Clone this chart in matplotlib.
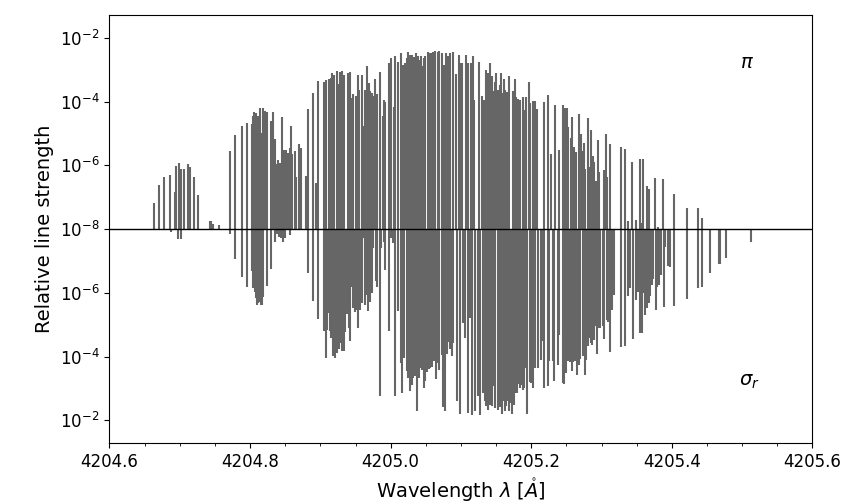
import matplotlib
matplotlib.use("Agg")
import matplotlib.pyplot as plt
from matplotlib.ticker import MultipleLocator
import numpy as np

# pi component: wavelength [A] and log10 of relative line strength
pi_wl = [
    4204.6640, 4204.6711, 4204.6782, 4204.6868, 4204.6939, 4204.6953, 4204.6982, 4204.7020,
    4204.7067, 4204.7110, 4204.7152, 4204.7209, 4204.7266, 4204.7423, 4204.7444, 4204.7469,
    4204.7551, 4204.7721, 4204.7792, 4204.7878, 4204.7963, 4204.8024, 4204.8038, 4204.8058,
    4204.8087, 4204.8115, 4204.8144, 4204.8167, 4204.8187, 4204.8215, 4204.8243, 4204.8300,
    4204.8329, 4204.8357, 4204.8386, 4204.8404, 4204.8428, 4204.8457, 4204.8479, 4204.8508,
    4204.8542, 4204.8561, 4204.8585, 4204.8603, 4204.8632, 4204.8656, 4204.8699, 4204.8731,
    4204.8802, 4204.8827, 4204.8898, 4204.8940, 4204.8969, 4204.9054, 4204.9073, 4204.9120,
    4204.9144, 4204.9172, 4204.9196, 4204.9233, 4204.9257, 4204.9282, 4204.9314, 4204.9343,
    4204.9386, 4204.9424, 4204.9442, 4204.9471, 4204.9504, 4204.9532, 4204.9556, 4204.9585,
    4204.9613, 4204.9637, 4204.9666, 4204.9688, 4204.9708, 4204.9731, 4204.9755, 4204.9780,
    4204.9802, 4204.9855, 4204.9888, 4204.9908, 4204.9926, 4204.9983, 4205.0011, 4205.0044,
    4205.0064, 4205.0107, 4205.0150, 4205.0172, 4205.0186, 4205.0206, 4205.0229, 4205.0253,
    4205.0277, 4205.0306, 4205.0329, 4205.0363, 4205.0385, 4205.0405, 4205.0424, 4205.0438,
    4205.0457, 4205.0476, 4205.0495, 4205.0524, 4205.0552, 4205.0580, 4205.0609, 4205.0637,
    4205.0666, 4205.0694, 4205.0723, 4205.0751, 4205.0775, 4205.0789, 4205.0818, 4205.0846,
    4205.0893, 4205.0922, 4205.0974, 4205.0997, 4205.1021, 4205.1068, 4205.1093, 4205.1145,
    4205.1164, 4205.1188, 4205.1253, 4205.1302, 4205.1330, 4205.1359, 4205.1381, 4205.1396,
    4205.1415, 4205.1438, 4205.1458, 4205.1477, 4205.1491, 4205.1510, 4205.1529, 4205.1552,
    4205.1572, 4205.1595, 4205.1615, 4205.1633, 4205.1657, 4205.1686, 4205.1743, 4205.1765,
    4205.1789, 4205.1813, 4205.1842, 4205.1884, 4205.1907, 4205.1931, 4205.1970, 4205.1987,
    4205.2021, 4205.2046, 4205.2084, 4205.2183, 4205.2240, 4205.2282, 4205.2339, 4205.2396,
    4205.2453, 4205.2478, 4205.2501, 4205.2529, 4205.2558, 4205.2586, 4205.2605, 4205.2629,
    4205.2672, 4205.2690, 4205.2710, 4205.2729, 4205.2753, 4205.2770, 4205.2803, 4205.2828,
    4205.2852, 4205.2875, 4205.2899, 4205.2918, 4205.2942, 4205.2970, 4205.3037, 4205.3065,
    4205.3083, 4205.3122, 4205.3279, 4205.3336, 4205.3378, 4205.3435, 4205.3492, 4205.3549,
    4205.3572, 4205.3596, 4205.3649, 4205.3677, 4205.3757, 4205.3805, 4205.3876, 4205.4032,
    4205.4212, 4205.4378, 4205.4431,
]
pi_logS = [
    -7.17, -6.60, -6.36, -6.30, -6.85, -6.02, -5.92, -6.11,
    -6.11, -5.95, -6.05, -6.36, -6.92, -7.74, -7.74, -7.83,
    -7.87, -5.55, -5.05, -4.76, -4.67, -4.70, -4.45, -4.32,
    -4.36, -4.45, -4.20, -4.97, -4.20, -4.28, -4.32, -4.61,
    -4.32, -5.16, -5.97, -5.83, -5.91, -4.48, -5.51, -5.51,
    -5.60, -5.45, -4.76, -5.64, -5.55, -6.35, -5.33, -5.44,
    -6.32, -4.22, -3.72, -6.55, -3.35, -3.38, -3.32, -3.28,
    -3.26, -3.11, -3.15, -3.04, -3.45, -3.07, -3.04, -3.15,
    -3.09, -3.07, -3.87, -3.76, -3.82, -3.16, -3.63, -3.16,
    -4.76, -3.63, -2.88, -3.42, -3.66, -3.72, -3.82, -3.29,
    -3.76, -3.07, -4.44, -3.95, -4.01, -2.78, -2.64, -4.17,
    -2.57, -2.76, -2.47, -2.85, -4.66, -2.78, -2.63, -2.45,
    -2.55, -2.53, -2.59, -2.47, -2.57, -2.70, -2.80, -2.57,
    -2.87, -2.62, -2.56, -2.44, -2.47, -2.48, -2.45, -2.41,
    -2.44, -2.41, -2.47, -2.84, -2.84, -2.47, -2.56, -2.47,
    -2.44, -3.12, -2.54, -2.80, -2.80, -2.54, -2.80, -2.78,
    -2.57, -3.95, -2.76, -3.82, -3.95, -3.01, -3.11, -3.09,
    -2.78, -3.19, -3.66, -3.37, -3.09, -3.92, -3.63, -3.48,
    -3.09, -3.72, -3.29, -3.63, -3.70, -3.19, -3.66, -3.29,
    -3.84, -3.91, -3.95, -3.86, -4.26, -3.86, -3.38, -4.04,
    -3.98, -3.98, -4.23, -4.01, -3.80, -5.64, -4.10, -5.51,
    -4.10, -4.20, -4.21, -4.81, -5.14, -4.47, -5.41, -5.57,
    -4.39, -5.64, -5.01, -5.54, -5.30, -6.12, -4.52, -6.04,
    -4.89, -5.72, -5.88, -6.49, -5.20, -6.21, -6.14, -5.01,
    -6.35, -5.33, -5.41, -5.49, -7.76, -5.89, -7.71, -5.81,
    -7.81, -5.81, -6.66, -6.74, -6.40, -7.94, -6.42, -6.89,
    -7.34, -7.34, -7.66,
]

# sigma_r component
sr_wl = [
    4204.6882, 4204.6977, 4204.7020, 4204.7721, 4204.7792, 4204.7878, 4204.7963, 4204.8027,
    4204.8046, 4204.8063, 4204.8080, 4204.8097, 4204.8114, 4204.8134, 4204.8152, 4204.8169,
    4204.8186, 4204.8243, 4204.8300, 4204.8357, 4204.8386, 4204.8414, 4204.8443, 4204.8465,
    4204.8494, 4204.8561, 4204.8831, 4204.8888, 4204.8973, 4204.9058, 4204.9073, 4204.9094,
    4204.9120, 4204.9140, 4204.9158, 4204.9177, 4204.9201, 4204.9240, 4204.9258, 4204.9282,
    4204.9305, 4204.9329, 4204.9348, 4204.9376, 4204.9400, 4204.9428, 4204.9452, 4204.9471,
    4204.9495, 4204.9516, 4204.9538, 4204.9561, 4204.9585, 4204.9609, 4204.9632, 4204.9660,
    4204.9680, 4204.9708, 4204.9731, 4204.9755, 4204.9793, 4204.9812, 4204.9850, 4204.9869,
    4204.9898, 4204.9926, 4204.9979, 4205.0008, 4205.0036, 4205.0064, 4205.0097, 4205.0144,
    4205.0168, 4205.0196, 4205.0225, 4205.0253, 4205.0277, 4205.0300, 4205.0324, 4205.0353,
    4205.0377, 4205.0400, 4205.0424, 4205.0434, 4205.0452, 4205.0467, 4205.0495, 4205.0514,
    4205.0538, 4205.0562, 4205.0585, 4205.0613, 4205.0642, 4205.0670, 4205.0694, 4205.0727,
    4205.0751, 4205.0770, 4205.0794, 4205.0818, 4205.0846, 4205.0875, 4205.0893, 4205.0946,
    4205.0989, 4205.1026, 4205.1054, 4205.1093, 4205.1131, 4205.1159, 4205.1202, 4205.1239,
    4205.1277, 4205.1316, 4205.1338, 4205.1359, 4205.1381, 4205.1406, 4205.1424, 4205.1444,
    4205.1463, 4205.1481, 4205.1524, 4205.1548, 4205.1566, 4205.1586, 4205.1605, 4205.1623,
    4205.1643, 4205.1662, 4205.1680, 4205.1704, 4205.1723, 4205.1747, 4205.1771, 4205.1794,
    4205.1814, 4205.1837, 4205.1857, 4205.1879, 4205.1903, 4205.1922, 4205.1936, 4205.1975,
    4205.1999, 4205.2027, 4205.2050, 4205.2093, 4205.2135, 4205.2155, 4205.2183, 4205.2231,
    4205.2259, 4205.2302, 4205.2326, 4205.2373, 4205.2401, 4205.2448, 4205.2472, 4205.2496,
    4205.2525, 4205.2548, 4205.2572, 4205.2596, 4205.2619, 4205.2647, 4205.2676, 4205.2700,
    4205.2729, 4205.2757, 4205.2781, 4205.2803, 4205.2828, 4205.2852, 4205.2866, 4205.2885,
    4205.2909, 4205.2932, 4205.2960, 4205.2984, 4205.3017, 4205.3041, 4205.3073, 4205.3098,
    4205.3122, 4205.3150, 4205.3183, 4205.3279, 4205.3336, 4205.3378, 4205.3411, 4205.3444,
    4205.3492, 4205.3515, 4205.3549, 4205.3572, 4205.3600, 4205.3624, 4205.3649, 4205.3671,
    4205.3695, 4205.3714, 4205.3738, 4205.3767, 4205.3791, 4205.3814, 4205.3842, 4205.3881,
    4205.3909, 4205.3947, 4205.3975, 4205.4032, 4205.4218, 4205.4378, 4205.4431, 4205.4535,
    4205.4667, 4205.4691, 4205.4763, 4205.5128,
]
sr_logS = [
    -7.92, -7.69, -7.69, -7.85, -7.06, -6.51, -6.20, -6.70,
    -6.16, -6.03, -5.84, -5.63, -5.68, -5.70, -5.63, -5.61,
    -5.86, -6.23, -6.76, -7.61, -7.84, -7.76, -7.71, -7.61,
    -7.72, -7.82, -6.62, -5.73, -5.19, -4.81, -3.97, -4.84,
    -5.37, -4.79, -4.58, -4.01, -3.96, -4.11, -4.25, -4.43,
    -4.19, -4.19, -4.77, -5.34, -4.90, -4.48, -6.20, -5.54,
    -5.40, -5.47, -4.90, -5.47, -5.68, -7.72, -5.63, -5.94,
    -5.44, -5.71, -5.99, -7.42, -6.38, -6.20, -2.78, -7.40,
    -7.60, -6.72, -4.79, -7.73, -7.57, -2.78, -5.44, -3.80,
    -2.86, -3.96, -3.54, -3.33, -2.91, -3.12, -3.33, -3.38,
    -2.28, -3.33, -3.90, -3.64, -3.57, -3.02, -3.22, -3.53,
    -3.62, -3.64, -3.69, -3.85, -3.31, -3.80, -3.57, -4.06,
    -2.41, -2.28, -4.09, -4.46, -4.25, -4.01, -4.43, -2.62,
    -2.20, -5.05, -4.58, -2.23, -5.21, -2.18, -2.28, -2.75,
    -2.18, -2.86, -2.60, -2.46, -2.34, -2.49, -3.07, -2.44,
    -3.07, -2.39, -2.34, -2.41, -2.49, -2.20, -2.62, -2.30,
    -2.44, -2.62, -2.28, -2.55, -2.20, -2.49, -2.86, -2.86,
    -3.14, -3.02, -3.12, -2.96, -3.03, -3.64, -2.20, -3.20,
    -3.17, -3.03, -3.64, -3.64, -3.90, -4.48, -3.02, -3.07,
    -3.85, -3.85, -3.24, -3.75, -4.69, -3.17, -3.14, -3.49,
    -3.85, -3.83, -3.54, -3.83, -3.85, -3.41, -3.75, -3.91,
    -4.03, -3.43, -3.90, -4.32, -4.58, -4.43, -4.37, -4.53,
    -4.95, -4.08, -4.90, -4.90, -4.97, -4.56, -5.16, -5.10,
    -4.16, -5.47, -5.94, -4.30, -4.32, -5.89, -6.15, -4.55,
    -5.78, -6.04, -4.74, -4.74, -5.99, -5.31, -5.52, -5.68,
    -5.91, -6.25, -6.43, -5.45, -6.20, -6.25, -6.57, -5.57,
    -7.44, -6.83, -6.80, -5.60, -5.81, -6.15, -6.20, -6.62,
    -6.90, -6.90, -7.11, -7.61,
]

base_log = -8.0
ytick_exp = [-2, -4, -6, -8, -6, -4, -2]
ytick_pos = [6, 4, 2, 0, -2, -4, -6]

fig, ax = plt.subplots(figsize=(8.46, 5.03), dpi=100)
fig.subplots_adjust(left=0.1294, right=0.9604, top=0.9696, bottom=0.1193)

pi_h = np.array(pi_logS) - base_log
sr_h = np.array(sr_logS) - base_log

ax.vlines(pi_wl, 0, pi_h, color='#666666', linewidth=1.5)
ax.vlines(sr_wl, 0, -sr_h, color='#666666', linewidth=1.5)
ax.axhline(0, color='black', linewidth=1.0, zorder=5)

ax.set_xlim(4204.6, 4205.6)
ax.set_ylim(-6.71, 6.71)
ax.xaxis.set_major_locator(MultipleLocator(0.2))
ax.xaxis.set_minor_locator(MultipleLocator(0.05))
ax.xaxis.set_major_formatter(matplotlib.ticker.FormatStrFormatter('%.1f'))
ax.set_yticks(ytick_pos)
ax.set_yticklabels([r'$10^{%d}$' % e for e in ytick_exp])
ax.tick_params(labelsize=12)

ax.set_xlabel(r'Wavelength $\lambda$ [$\mathring{A}$]', fontsize=14)
ax.set_ylabel('Relative line strength', fontsize=14)

ax.text(4205.5075, 5.24, r'$\pi$', fontsize=14, ha='center', va='center')
ax.text(4205.510, -4.79, r'$\sigma_r$', fontsize=14, ha='center', va='center')

fig.savefig('out.png', dpi=100)
